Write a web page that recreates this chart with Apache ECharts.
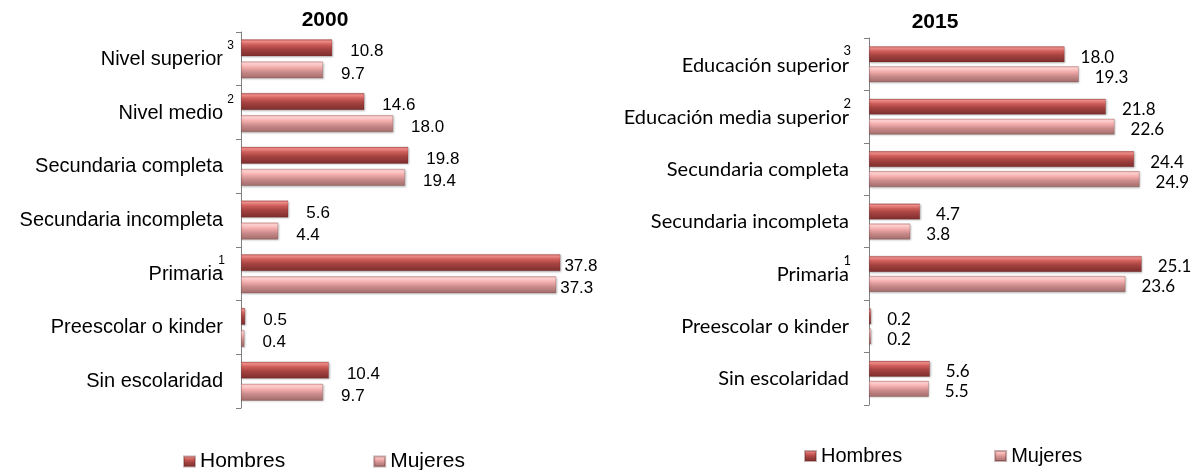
<!DOCTYPE html>
<html>
<head>
<meta charset="utf-8">
<script src="https://cdn.jsdelivr.net/npm/echarts@6/dist/echarts.min.js"></script>
<style>
html,body{margin:0;padding:0;background:#fff;}
#chart{width:1195px;height:470px;}
</style>
</head>
<body>
<div id="chart"></div>
<script>
// ---- Data ----
var categories2000 = ['Nivel superior', 'Nivel medio', 'Secundaria completa', 'Secundaria incompleta', 'Primaria', 'Preescolar o kinder', 'Sin escolaridad'];
var sup2000 = ['3', '2', '', '', '1', '', ''];
var hombres2000 = [10.8, 14.6, 19.8, 5.6, 37.8, 0.5, 10.4];
var mujeres2000 = [9.7, 18.0, 19.4, 4.4, 37.3, 0.4, 9.7];

var categories2015 = ['Educación superior', 'Educación media superior', 'Secundaria completa', 'Secundaria incompleta', 'Primaria', 'Preescolar o kinder', 'Sin escolaridad'];
var sup2015 = ['3', '2', '', '', '1', '', ''];
var hombres2015 = [18.0, 21.8, 24.4, 4.7, 25.1, 0.2, 5.6];
var mujeres2015 = [19.3, 22.6, 24.9, 3.8, 23.6, 0.2, 5.5];

var seriesNames = ['Hombres', 'Mujeres'];
var titles = ['2000', '2015'];

// ---- Styles ----
function grad(stops) {
  return { type: 'linear', x: 0, y: 0, x2: 0, y2: 1,
    colorStops: stops.map(function (s) { return { offset: s[0], color: s[1] }; }) };
}
var colH = grad([[0, '#c55a58'], [0.12, '#ee8e8b'], [0.3, '#d0605c'], [0.55, '#a84442'], [1, '#7b2d2c']]);
var colM = grad([[0, '#e9a3a2'], [0.12, '#ffd3d2'], [0.35, '#f2acab'], [0.62, '#c98b8a'], [1, '#a06b6a']]);

var chart = echarts.init(document.getElementById('chart'));

function labelFormatter(cats, sups, supStyle) {
  return function (v) {
    var idx = cats.indexOf(v);
    var s = sups[idx];
    if (s) return '{' + supStyle[idx] + '|' + s + '}\n{a|' + v + '}';
    return '{a|' + v + '}';
  };
}

function makeSeries(name, data, gi, color, dist, near) {
  return {
    type: 'bar', name: name, xAxisIndex: gi, yAxisIndex: gi,
    barWidth: gi === 0 ? 17 : 16,
    barGap: gi === 0 ? '30%' : '25%',
    itemStyle: { color: color, borderColor: 'rgba(90,30,30,0.35)', borderWidth: 0.6,
      shadowColor: 'rgba(0,0,0,0.25)', shadowBlur: 2, shadowOffsetX: 1, shadowOffsetY: 1 },
    label: {
      show: true, position: 'right', distance: dist,
      offset: [0, gi === 0 ? 4 : 3],
      fontFamily: gi === 0 ? 'Liberation Sans, Arial' : 'Lato',
      fontSize: 17, color: '#000',
      formatter: function (p) { return p.value.toFixed(1); }
    },
    data: data.map(function (v) {
      return v > near ? { value: v, label: { distance: 4 } } : v;
    })
  };
}

var axisCommon = {
  axisLine: { lineStyle: { color: '#808080', width: 1 } },
  axisTick: { show: true, length: 5, inside: false, lineStyle: { color: '#808080', width: 1 } }
};

var option = {
  animation: false,
  title: [
    { text: titles[0], left: 320, top: 5, textAlign: 'center',
      textStyle: { fontFamily: 'Liberation Sans, Arial', fontWeight: 'bold', fontSize: 21, color: '#000' } },
    { text: titles[1], left: 930, top: 7, textAlign: 'center',
      textStyle: { fontFamily: 'Liberation Sans, Arial', fontWeight: 'bold', fontSize: 21, color: '#000' } }
  ],
  legend: [
    { data: seriesNames, left: 183, top: 451, padding: 0, itemWidth: 11, itemHeight: 10, itemGap: 88, icon: 'rect',
      textStyle: { fontFamily: 'Liberation Sans, Arial', fontSize: 21, color: '#000' } },
    { data: seriesNames, left: 804, top: 446, padding: 0, itemWidth: 11, itemHeight: 10, itemGap: 92, icon: 'rect',
      textStyle: { fontFamily: 'Liberation Sans, Arial', fontSize: 20, color: '#000' } }
  ],
  grid: [
    { left: 241, top: 32, width: 338, height: 376, containLabel: false },
    { left: 869, top: 38, width: 333.6, height: 367, containLabel: false }
  ],
  xAxis: [
    { gridIndex: 0, type: 'value', min: 0, max: 40, show: false },
    { gridIndex: 1, type: 'value', min: 0, max: 30, show: false }
  ],
  yAxis: [
    Object.assign({ gridIndex: 0, type: 'category', inverse: true, data: categories2000,
      axisLabel: { margin: 7, color: '#000', fontFamily: 'Liberation Sans, Arial',
        formatter: labelFormatter(categories2000, sup2000, ['s', 's', '', '', 't', '', '']),
        rich: {
          a: { fontFamily: 'Liberation Sans, Arial', fontSize: 20, lineHeight: 26, color: '#000', padding: [0, 11, 0, 0] },
          s: { fontFamily: 'Liberation Sans, Arial', fontSize: 12, lineHeight: 2, color: '#000' },
          t: { fontFamily: 'Liberation Sans, Arial', fontSize: 12, lineHeight: 2, color: '#000', padding: [0, 9, 0, 0] }
        } } }, axisCommon),
    Object.assign({ gridIndex: 1, type: 'category', inverse: true, data: categories2015,
      axisLabel: { margin: 18, color: '#000', fontFamily: 'Lato',
        formatter: labelFormatter(categories2015, sup2015, ['t', 't', '', '', 't', '', '']),
        rich: {
          a: { fontFamily: 'Lato', fontSize: 20, lineHeight: 26, color: '#000', padding: [0, 2, 0, 0] },
          t: { fontFamily: 'Lato', fontSize: 13, lineHeight: 2, color: '#000' }
        } } }, axisCommon)
  ],
  series: [
    makeSeries(seriesNames[0], hombres2000, 0, colH, 18, 35),
    makeSeries(seriesNames[1], mujeres2000, 0, colM, 18, 35),
    makeSeries(seriesNames[0], hombres2015, 1, colH, 16, 100),
    makeSeries(seriesNames[1], mujeres2015, 1, colM, 16, 100)
  ]
};
chart.setOption(option);
</script>
</body>
</html>
